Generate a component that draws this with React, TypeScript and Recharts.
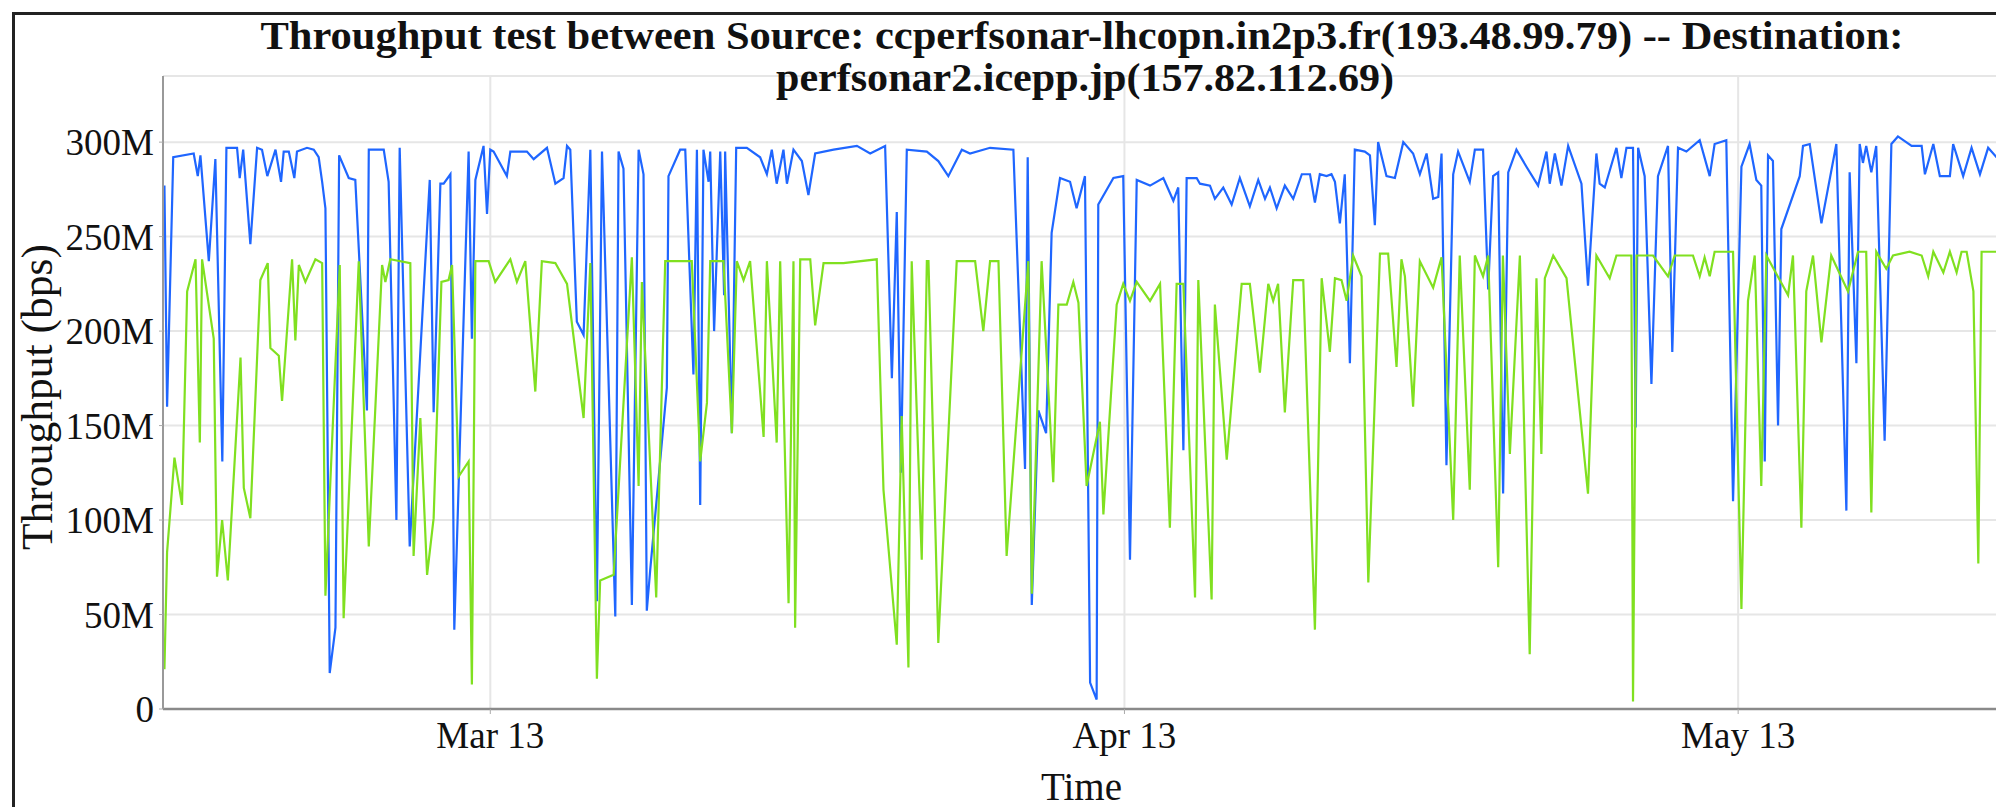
import React from "react";
import { LineChart, Line, XAxis, YAxis, CartesianGrid } from "recharts";

// time is in days from Mar 13 00:00, throughput in Mbps
const blueDays = [
  -15.93, -15.8, -15.5, -14.5, -14.3, -14.17, -13.76, -13.44, -13.1, -12.9, -12.38, -12.25, -12.08, -11.73, -11.4,
  -11.16, -10.9, -10.5, -10.23, -10.1, -9.85, -9.58, -9.45, -8.96, -8.63, -8.39, -8.22, -8.06, -7.85, -7.57, -7.39,
  -6.92, -6.6, -6.03, -5.94, -5.21, -4.97, -4.59, -4.43, -3.94, -2.96, -2.77, -2.44, -2.28, -1.95, -1.76, -1.06,
  -0.9, -0.73, -0.33, -0.16, 0, 0.16, 0.81, 0.98, 1.79, 2.12, 2.77, 3.18, 3.58, 3.75, 3.91, 4.23, 4.56, 4.89, 5.21,
  5.46, 6.11, 6.27, 6.51, 6.92, 7.25, 7.49, 7.65, 7.82, 8.63, 8.71, 9.28, 9.53, 9.93, 10.1, 10.26, 10.42, 10.67,
  10.75, 10.94, 11.24, 11.43, 11.48, 11.81, 12.02, 12.54, 13.19, 13.52, 13.76, 14.0, 14.33, 14.5, 14.82, 15.23,
  15.55, 15.88, 16.78, 17.92, 18.57, 19.3, 19.63, 19.87, 20.07, 20.36, 21.34, 21.9, 22.39, 23.05, 23.45, 24.43,
  25.57, 26.14, 26.27, 26.47, 26.79, 27.17, 27.44, 27.85, 28.34, 28.66, 29.07, 29.32, 29.64, 29.72, 30.46, 30.94,
  31.27, 31.6, 32.25, 32.9, 33.39, 33.63, 33.88, 34.04, 34.53, 34.69, 35.18, 35.42, 35.83, 36.24, 36.64, 37.13,
  37.54, 37.87, 38.11, 38.44, 38.84, 39.25, 39.67, 40.07, 40.31, 40.55, 40.88, 41.12, 41.29, 41.53, 41.77, 42.02,
  42.26, 42.75, 43.0, 43.24, 43.4, 43.81, 44.22, 44.63, 45.11, 45.44, 45.77, 46.09, 46.34, 46.5, 46.74, 47.07,
  47.31, 47.88, 48.13, 48.53, 48.78, 49.02, 49.27, 49.51, 49.76, 50.16, 50.65, 51.22, 51.63, 51.79, 52.04, 52.36,
  52.69, 53.34, 53.66, 54.07, 54.23, 54.48, 55.05, 55.29, 55.54, 55.86, 55.99, 56.11, 56.43, 56.76, 57.08, 57.57,
  57.78, 58.06, 58.47, 59.12, 59.61, 59.85, 60.42, 60.75, 61.16, 61.56, 61.89, 62.13, 62.3, 62.46, 62.7, 62.95,
  63.11, 64.01, 64.17, 64.5, 65.07, 65.8, 66.29, 66.45, 66.78, 66.94, 67.1, 67.26, 67.51, 67.75, 68.16, 68.49,
  68.81, 69.48, 69.97, 70.13, 70.54, 70.86, 71.35, 71.51, 72.0, 72.41, 72.82, 73.22, 73.8,
];
const blueMbps = [
  277, 160, 292, 294, 282, 293, 237, 291, 131, 297, 297, 281, 296, 246, 297,
  296, 282, 296, 279, 295, 295, 281, 295, 297, 296, 292, 279, 265, 19, 43, 293,
  281, 280, 158, 296, 296, 279, 100, 297, 86, 280, 157, 278, 278, 283, 42, 295,
  196, 280, 298, 262, 296, 295, 282, 295, 295, 291, 297, 278, 281, 298, 296, 205, 198, 296, 57,
  295, 49, 295, 286, 55, 296, 283, 52, 74, 170, 282, 296, 296, 177, 296, 108, 296, 279,
  295, 200, 295, 219, 295, 146, 297, 297, 292, 283, 296, 278, 296, 278, 296, 290,
  272, 294, 296, 298, 294, 298, 175, 263, 125, 296, 295, 290, 282, 296, 294, 297,
  296, 127, 292, 55, 158, 146, 252, 281, 279, 265, 282, 14, 5, 267, 281, 282,
  79, 280, 277, 281, 269, 276, 137, 281, 281, 278, 277, 270, 276, 267, 281, 266,
  280, 270, 276, 265, 277, 270, 283, 283, 268, 283, 282, 283, 279, 257, 283, 183,
  296, 295, 293, 256, 300, 282, 281, 300, 294, 283, 294, 270, 271, 294, 129, 283,
  295, 279, 296, 296, 222, 282, 284, 114, 284, 296, 287, 277, 295, 278, 294, 277,
  298, 278, 224, 294, 278, 276, 297, 281, 297, 297, 149, 297, 282, 172, 282, 298,
  189, 297, 295, 301, 282, 299, 301, 110, 287, 299, 280, 277, 131, 293, 290, 150,
  254, 282, 298, 299, 257, 299, 105, 284, 183, 299, 289, 298, 284, 298, 142, 299,
  303, 298, 298, 283, 299, 282, 282, 299, 282, 297, 283, 297, 290,
];

const greenDays = [
  -15.93, -15.8, -15.44, -15.07, -14.82, -14.41, -14.2, -14.09, -13.52, -13.36, -13.11, -12.83, -12.21, -12.05,
  -11.73, -11.24, -10.88, -10.75, -10.34, -10.18, -9.69, -9.53, -9.36, -9.04, -8.55, -8.22, -8.06, -7.36, -7.17,
  -6.43, -5.94, -5.29, -5.13, -4.89, -3.91, -3.75, -3.42, -3.09, -2.77, -2.39, -2.04, -1.87, -1.55, -1.06, -0.9,
  -0.73, -0.08, 0.24, 0.98, 1.3, 1.71, 2.2, 2.52, 3.18, 3.75, 4.56, 4.89, 5.21, 5.37, 6.03, 6.92, 7.25, 7.41,
  8.11, 8.55, 9.85, 10.26, 10.59, 10.75, 11.4, 11.81, 12.05, 12.38, 12.7, 13.36, 13.52, 14.0, 14.17, 14.58, 14.82,
  14.9, 15.15, 15.64, 15.88, 16.29, 17.26, 18.89, 19.22, 19.87, 20.11, 20.44, 20.6, 21.09, 21.34, 21.42, 21.9,
  22.8, 23.7, 24.1, 24.43, 24.84, 25.24, 26.3, 26.47, 26.95, 27.52, 27.77, 28.18, 28.5, 28.75, 29.15, 29.8, 29.97,
  30.62, 30.94, 31.27, 31.6, 32.25, 32.74, 33.22, 33.55, 33.88, 34.45, 34.61, 35.26, 35.42, 36.0, 36.73, 37.13,
  37.62, 38.03, 38.27, 38.51, 38.84, 39.25, 39.74, 40.31, 40.64, 41.04, 41.29, 41.61, 41.86, 42.18, 42.59, 42.92,
  43.49, 43.89, 44.3, 44.54, 44.71, 45.11, 45.44, 46.09, 46.5, 47.07, 47.39, 47.88, 48.13, 48.53, 48.78, 49.27,
  49.5, 49.84, 50.33, 50.81, 51.14, 51.38, 51.55, 51.96, 52.61, 53.66, 54.07, 54.72, 55.05, 55.78, 55.86, 56.03,
  56.84, 57.57, 57.9, 58.79, 59.12, 59.36, 59.61, 59.85, 60.75, 61.16, 61.48, 61.81, 62.13, 62.38, 63.44, 63.68,
  64.09, 64.33, 64.66, 65.07, 65.55, 66.37, 66.86, 67.26, 67.51, 67.75, 68.24, 68.57, 69.38, 69.97, 70.29, 70.54,
  71.03, 71.35, 71.68, 71.92, 72.17, 72.5, 72.74, 72.9, 73.8,
];
const greenMbps = [
  21, 83, 133, 108, 221, 238, 141, 238, 196, 70, 100, 68, 186, 117,
  101, 227, 236, 191, 187, 163, 238, 195, 235, 226, 238, 236, 60, 235, 48,
  237, 86, 235, 226, 238, 236, 81, 154, 71, 101, 226, 227, 235, 123, 131, 13,
  237, 237, 226, 238, 226, 237, 168, 237, 236, 225, 154, 236, 16, 68, 71, 239, 118, 226,
  59, 237, 237, 131, 162, 237, 237, 146, 237, 227, 237, 144, 237, 141, 237, 56, 237,
  43, 238, 238, 203, 236, 236, 238, 116, 34, 155, 22, 237, 79, 237, 237, 35,
  237, 237, 200, 237, 237, 81, 237, 61, 237, 120, 214, 214, 226, 215, 118, 152, 103,
  214, 225, 216, 226, 216, 225, 96, 225, 225, 59, 227, 58, 214, 132, 225, 225,
  178, 225, 216, 225, 157, 227, 227, 42, 228, 189, 228, 227, 216, 240, 229, 67,
  241, 241, 181, 238, 229, 160, 237, 223, 239, 100, 240, 116, 240, 229, 240, 75,
  240, 135, 240, 29, 228, 135, 228, 240, 228, 114, 240, 228, 240, 240, 4, 240,
  240, 229, 240, 240, 229, 239, 229, 242, 242, 53, 216, 240, 118, 240, 219, 240,
  96, 221, 240, 194, 240, 221, 242, 242, 104, 242, 233, 240, 242, 240, 229, 242,
  231, 242, 231, 242, 242, 221, 77, 242, 242,
];

const tickDays = [0, 31, 61];
const tickLabels = ["Mar 13", "Apr 13", "May 13"];
const yTicks = [0, 50, 100, 150, 200, 250, 300];

const blueData = blueDays.map((t, i) => ({ t, v: blueMbps[i] }));
const greenData = greenDays.map((t, i) => ({ t, v: greenMbps[i] }));

const SERIF = '"Liberation Serif", "Times New Roman", serif';

export default function App() {
  return (
    <div
      style={{
        position: "fixed",
        left: 0,
        top: 0,
        width: 1996,
        height: 807,
        overflow: "hidden",
        background: "#fff",
      }}
    >
      <div
        style={{
          position: "absolute",
          left: 12,
          top: 12,
          width: 2100,
          height: 900,
          border: "3px solid #222",
          boxSizing: "border-box",
        }}
      />
      <div style={{ position: "absolute", left: 0, top: 0 }}>
        <LineChart width={2000} height={807} margin={{ top: 76, right: 0, bottom: 0, left: 0 }}>
          <CartesianGrid stroke="#e6e6e6" strokeWidth={2} />
          <XAxis
            type="number"
            dataKey="t"
            domain={[-16, 73.8]}
            allowDataOverflow
            ticks={tickDays}
            tickFormatter={(d) => tickLabels[tickDays.indexOf(d)] ?? ""}
            height={98}
            tickSize={5}
            tickMargin={8}
            axisLine={{ stroke: "#8a8a8a", strokeWidth: 2.5 }}
            tickLine={{ stroke: "#aaa" }}
            tick={{ fontFamily: SERIF, fontSize: 37, fill: "#111" }}
            label={{ value: "Time", position: "insideBottom", offset: 7, fontFamily: SERIF, fontSize: 39, fill: "#111" }}
          />
          <YAxis
            type="number"
            domain={[0, 335]}
            allowDataOverflow
            ticks={yTicks}
            tickFormatter={(v) => (v === 0 ? "0" : `${v}M`)}
            width={163}
            tickSize={4}
            tickMargin={5}
            axisLine={{ stroke: "#999", strokeWidth: 2 }}
            tickLine={{ stroke: "#aaa" }}
            tick={{ fontFamily: SERIF, fontSize: 37, fill: "#111" }}
          />
          <Line
            data={blueData}
            dataKey="v"
            type="linear"
            stroke="#1f66ff"
            strokeWidth={2.2}
            dot={false}
            isAnimationActive={false}
          />
          <Line
            data={greenData}
            dataKey="v"
            type="linear"
            stroke="#80e020"
            strokeWidth={2.2}
            dot={false}
            isAnimationActive={false}
          />
        </LineChart>
      </div>
      <svg
        width={2000}
        height={807}
        style={{ position: "absolute", left: 0, top: 0, pointerEvents: "none" }}
      >
        <text
          x={1082}
          y={49}
          textAnchor="middle"
          fontFamily={SERIF}
          fontWeight="bold"
          fontSize={40}
          textLength={1643}
          lengthAdjust="spacingAndGlyphs"
          fill="#111"
        >
          Throughput test between Source: ccperfsonar-lhcopn.in2p3.fr(193.48.99.79) -- Destination:
        </text>
        <text
          x={1085}
          y={91}
          textAnchor="middle"
          fontFamily={SERIF}
          fontWeight="bold"
          fontSize={40}
          textLength={618}
          lengthAdjust="spacingAndGlyphs"
          fill="#111"
        >
          perfsonar2.icepp.jp(157.82.112.69)
        </text>
        <text
          transform="translate(52,397) rotate(-90)"
          textAnchor="middle"
          fontFamily={SERIF}
          fontSize={44}
          textLength={306}
          lengthAdjust="spacingAndGlyphs"
          fill="#111"
        >
          Throughput (bps)
        </text>
      </svg>
    </div>
  );
}
